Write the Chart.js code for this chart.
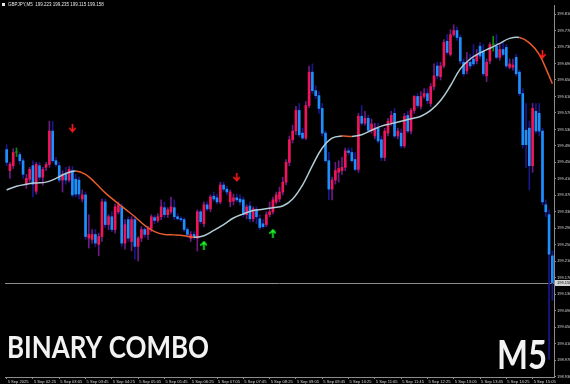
<!DOCTYPE html>
<html><head><meta charset="utf-8">
<script src="https://cdn.jsdelivr.net/npm/chart.js@4.4.1/dist/chart.umd.min.js"></script>
<style>html,body{margin:0;padding:0;background:#000;overflow:hidden}#wrap{position:relative;width:570px;height:384px}</style>
</head><body><div id="wrap"><canvas id="c" width="570" height="384"></canvas></div>
<script>
const symbolText = 'GBPJPY,M5';
const titleText = 'BINARY COMBO';
const timeframeText = 'M5';
const xTickLabels = ['5 Sep 2025','5 Sep 02:25','5 Sep 03:05','5 Sep 03:45','5 Sep 04:25','5 Sep 05:05','5 Sep 05:45','5 Sep 06:25','5 Sep 07:05','5 Sep 07:45','5 Sep 08:25','5 Sep 09:05','5 Sep 09:45','5 Sep 10:25','5 Sep 11:05','5 Sep 11:45','5 Sep 12:25','5 Sep 13:05','5 Sep 13:45','5 Sep 14:25','5 Sep 15:05'];
const yTicks = [199.810,199.770,199.730,199.690,199.650,199.610,199.570,199.530,199.490,199.450,199.410,199.370,199.330,199.290,199.250,199.210,199.170,199.130,199.090,199.050,199.010,198.970,198.930];

const openP = [
199.481,199.430,199.442,199.474,199.469,199.454,199.397,199.409,199.442,199.380,
199.442,199.414,199.438,199.445,199.526,199.454,199.442,199.407,199.421,199.407,
199.430,199.409,199.407,199.361,199.371,199.266,199.263,199.275,199.251,199.270,
199.354,199.299,199.318,199.287,199.330,199.342,199.254,199.311,199.258,199.311,
199.246,199.266,199.287,199.275,199.290,199.316,199.309,199.318,199.340,199.323,
199.330,199.340,199.318,199.313,199.311,199.287,199.266,199.275,199.266,199.330,
199.301,199.347,199.337,199.368,199.364,199.354,199.395,199.385,199.354,199.356,
199.364,199.361,199.359,199.323,199.344,199.313,199.335,199.313,199.301,199.299,
199.323,199.330,199.354,199.361,199.378,199.402,199.450,199.505,199.526,199.576,
199.521,199.509,199.588,199.669,199.624,199.612,199.581,199.521,199.454,199.385,
199.407,199.426,199.430,199.438,199.478,199.474,199.457,199.433,199.562,199.545,
199.557,199.528,199.514,199.533,199.505,199.462,199.521,199.545,199.569,199.514,
199.521,199.490,199.564,199.526,199.576,199.610,199.586,199.610,199.617,199.593,
199.634,199.684,199.658,199.684,199.744,199.712,199.760,199.770,199.753,199.693,
199.672,199.693,199.701,199.696,199.732,199.720,199.660,199.696,199.736,199.732,
199.705,199.724,199.729,199.681,199.681,199.705,199.669,199.617,199.528,199.533,
199.442,199.574,199.569,199.526,199.347,199.323,199.223];
const highP = [
199.493,199.450,199.483,199.485,199.474,199.459,199.421,199.438,199.454,199.450,
199.450,199.438,199.450,199.550,199.550,199.462,199.450,199.430,199.438,199.440,
199.440,199.421,199.414,199.383,199.378,199.323,199.287,199.287,199.278,199.361,
199.361,199.323,199.330,199.349,199.354,199.349,199.311,199.318,199.318,199.318,
199.270,199.294,199.292,199.294,199.323,199.321,199.325,199.359,199.354,199.340,
199.366,199.359,199.325,199.318,199.316,199.292,199.282,199.282,199.335,199.335,
199.354,199.354,199.371,199.378,199.373,199.402,199.402,199.392,199.383,199.373,
199.373,199.371,199.366,199.347,199.354,199.342,199.342,199.323,199.311,199.330,
199.354,199.366,199.378,199.390,199.414,199.457,199.514,199.540,199.586,199.593,
199.533,199.598,199.684,199.689,199.636,199.622,199.593,199.526,199.474,199.414,
199.450,199.454,199.462,199.485,199.485,199.485,199.474,199.569,199.588,199.574,
199.564,199.555,199.545,199.545,199.514,199.533,199.557,199.574,199.581,199.533,
199.531,199.569,199.574,199.581,199.612,199.617,199.622,199.629,199.629,199.641,
199.689,199.693,199.693,199.748,199.760,199.772,199.784,199.779,199.760,199.701,
199.717,199.712,199.736,199.724,199.741,199.736,199.701,199.741,199.756,199.760,
199.736,199.741,199.736,199.701,199.701,199.712,199.674,199.629,199.593,199.550,
199.593,199.593,199.593,199.533,199.359,199.335,199.235];
const lowP = [
199.442,199.411,199.435,199.464,199.445,199.411,199.387,199.402,199.366,199.373,
199.407,199.395,199.430,199.438,199.450,199.440,199.402,199.378,199.397,199.402,
199.366,199.366,199.361,199.354,199.263,199.242,199.254,199.246,199.223,199.258,
199.292,199.287,199.282,199.278,199.325,199.246,199.239,199.258,199.235,199.215,
199.211,199.258,199.268,199.263,199.282,199.301,199.304,199.311,199.316,199.316,
199.325,199.311,199.311,199.306,199.282,199.268,199.258,199.263,199.235,199.301,
199.294,199.333,199.330,199.356,199.349,199.349,199.380,199.371,199.342,199.347,
199.354,199.347,199.318,199.313,199.306,199.306,199.301,199.287,199.290,199.294,
199.318,199.325,199.349,199.354,199.371,199.395,199.442,199.497,199.517,199.512,
199.505,199.505,199.583,199.617,199.605,199.569,199.514,199.450,199.359,199.359,
199.397,199.402,199.421,199.430,199.469,199.450,199.430,199.426,199.540,199.540,
199.526,199.521,199.507,199.497,199.454,199.454,199.514,199.540,199.509,199.507,
199.485,199.485,199.521,199.519,199.569,199.583,199.579,199.605,199.593,199.586,
199.626,199.653,199.650,199.679,199.712,199.708,199.756,199.746,199.689,199.660,
199.665,199.677,199.684,199.689,199.701,199.660,199.646,199.689,199.720,199.701,
199.698,199.708,199.679,199.677,199.674,199.660,199.612,199.485,199.438,199.383,
199.426,199.521,199.514,199.347,199.318,198.972,199.115];
const closeP = [
199.450,199.445,199.474,199.474,199.454,199.421,199.411,199.433,199.397,199.445,
199.414,199.433,199.445,199.526,199.454,199.445,199.407,199.421,199.407,199.433,
199.371,199.373,199.373,199.371,199.270,199.275,199.275,199.254,199.270,199.354,
199.299,199.318,199.287,199.342,199.347,199.254,199.299,199.266,199.311,199.246,
199.266,199.287,199.275,199.290,199.318,199.309,199.318,199.342,199.323,199.335,
199.342,199.318,199.313,199.311,199.287,199.275,199.275,199.268,199.330,199.306,
199.347,199.337,199.366,199.361,199.354,199.395,199.385,199.378,199.378,199.364,
199.359,199.354,199.323,199.342,199.313,199.337,199.318,199.292,199.294,199.323,
199.330,199.359,199.371,199.378,199.402,199.450,199.505,199.526,199.576,199.517,
199.509,199.588,199.669,199.624,199.612,199.581,199.521,199.454,199.385,199.407,
199.430,199.435,199.438,199.478,199.474,199.454,199.433,199.562,199.545,199.557,
199.528,199.543,199.533,199.502,199.462,199.526,199.550,199.564,199.514,199.526,
199.490,199.562,199.526,199.576,199.610,199.588,199.610,199.617,199.600,199.634,
199.660,199.660,199.684,199.741,199.717,199.760,199.770,199.753,199.696,199.665,
199.693,199.684,199.689,199.712,199.708,199.665,199.693,199.736,199.736,199.705,
199.724,199.712,199.684,199.689,199.686,199.665,199.617,199.493,199.493,199.442,
199.581,199.526,199.526,199.354,199.330,199.227,199.158];

const maIndex = [0,3,6,9,12,15,18,21,24,27,30,33,36,39,42,45,48,51,54,57,60,63,66,69,72,75,78,81,84,87,90,93,96,99,102,105,108,111,114,117,120,123,126,129,132,135,138,141,144,147,150,153,156,159,162,165,166];
const maValues = [199.383,199.392,199.397,199.400,199.402,199.411,199.423,199.429,199.421,199.400,
199.376,199.356,199.337,199.318,199.297,199.282,199.275,199.274,199.272,199.268,
199.272,199.285,199.299,199.315,199.325,199.333,199.336,199.340,199.344,199.361,
199.395,199.442,199.485,199.509,199.514,199.513,199.517,199.528,199.538,199.544,
199.550,199.556,199.562,199.576,199.600,199.636,199.677,199.701,199.716,199.727,
199.739,199.751,199.753,199.740,199.712,199.660,199.641];

const arrowDownIndex = [20, 70, 163];
const arrowDownValue = [199.533, 199.414, 199.712];
const arrowUpIndex = [60, 81];
const arrowUpValue = [199.249, 199.278];

// bar times (M5 bars starting 01:45)
const categories = [];
for (let i = 0; i < openP.length; i++) {
  const m = 105 + 5 * i;
  categories.push(String(Math.floor(m / 60)).padStart(2, '0') + ':' + String(m % 60).padStart(2, '0'));
}
const n = openP.length;
const BULL = '#f0145a', BEAR = '#1e8fff', BULLW = '#6e1a84', BEARW = '#18188e', DOJI = '#0c8a0c';
const MA_UP = '#b2cbd6', MA_DN = '#e85c2c';

const wickData = categories.map((c, i) => [lowP[i], highP[i]]);
const bodyData = categories.map((c, i) => [openP[i], closeP[i]]);
const wickColors = categories.map((c, i) => closeP[i] > openP[i] ? BULLW : (closeP[i] < openP[i] ? BEARW : DOJI));
const bodyColors = categories.map((c, i) => closeP[i] > openP[i] ? BULL : (closeP[i] < openP[i] ? BEAR : DOJI));
const maData = new Array(n).fill(null);
maIndex.forEach((k, j) => { maData[k] = maValues[j]; });
const dnData = arrowDownIndex.map((k, j) => ({ x: categories[k], y: arrowDownValue[j] }));
const upData = arrowUpIndex.map((k, j) => ({ x: categories[k], y: arrowUpValue[j] }));

function maSegmentColor(c) {
  let a = c.p0DataIndex, b = c.p1DataIndex;
  while (a > 0 && maData[a] == null) a--;
  while (b < n - 1 && maData[b] == null) b++;
  if (maData[a] == null || maData[b] == null) return MA_UP;
  return maData[b] >= maData[a] ? MA_UP : MA_DN;
}

function makeArrow(color, up) {
  const c = document.createElement('canvas');
  c.width = 7; c.height = 9;
  const g = c.getContext('2d');
  g.strokeStyle = color; g.lineWidth = 1.6; g.lineCap = 'square';
  g.beginPath();
  if (up) {
    g.moveTo(3.5, 9); g.lineTo(3.5, 1.5);
    g.moveTo(0.8, 4.2); g.lineTo(3.5, 1.2); g.lineTo(6.2, 4.2);
  } else {
    g.moveTo(3.5, 0); g.lineTo(3.5, 7.5);
    g.moveTo(0.8, 4.8); g.lineTo(3.5, 7.8); g.lineTo(6.2, 4.8);
  }
  g.stroke();
  return c;
}
const redArrow = makeArrow('#ff1a1a', false);
const greenArrow = makeArrow('#19ff2a', true);

const AXIS = '#8c8c8c', TXT = '#d8d8d8';

const bgPlugin = {
  id: 'bg',
  beforeDraw(chart) {
    const ctx = chart.ctx;
    ctx.save(); ctx.fillStyle = '#000'; ctx.fillRect(0, 0, chart.width, chart.height); ctx.restore();
  }
};

function drawFit(ctx, text, font, x, baseline, targetW) {
  ctx.save();
  ctx.font = font;
  const w = ctx.measureText(text).width;
  ctx.translate(x, baseline);
  ctx.scale(targetW / w, 1);
  ctx.textAlign = 'left'; ctx.textBaseline = 'alphabetic';
  ctx.fillText(text, 0, 0);
  ctx.restore();
}

const overlay = {
  id: 'overlay',
  beforeDatasetsDraw(chart) {
    const ctx = chart.ctx, ca = chart.chartArea, ys = chart.scales.y;
    const py = Math.round(ys.getPixelForValue(closeP[n - 1])) + 0.5;
    ctx.save();
    ctx.strokeStyle = AXIS; ctx.lineWidth = 1;
    ctx.beginPath(); ctx.moveTo(ca.left, py); ctx.lineTo(ca.right, py); ctx.stroke();
    ctx.restore();
  },
  afterDraw(chart) {
    const ctx = chart.ctx, ca = chart.chartArea, ys = chart.scales.y;
    const last = closeP[n - 1];
    const py = Math.round(ys.getPixelForValue(last));
    ctx.save();
    ctx.fillStyle = '#d4d4d4';
    ctx.fillRect(ca.right + 1, py - 3, 16, 6);
    ctx.fillStyle = '#000'; ctx.font = '4px "Liberation Sans"';
    ctx.textBaseline = 'middle'; ctx.textAlign = 'left';
    ctx.fillText(last.toFixed(3), ca.right + 3, py);
    // header
    ctx.fillStyle = '#e8e8e8';
    ctx.fillRect(2, 3, 3, 3);
    ctx.font = '4.5px "Liberation Sans"';
    ctx.textBaseline = 'middle';
    ctx.fillText(symbolText + '  ' + [openP[n-1], highP[n-1], lowP[n-1], closeP[n-1]].map(v => v.toFixed(3)).join(' '), 8, 5);
    // big labels
    ctx.fillStyle = '#f2f2f2';
    drawFit(ctx, titleText, 'bold 31px Lato', 7, 358, 202);
    drawFit(ctx, timeframeText, 'bold 40px Lato', 497, 369, 50);
    ctx.restore();
  }
};

new Chart(document.getElementById('c'), {
  type: 'bar',
  data: {
    labels: categories,
    datasets: [
      { type: 'line', data: dnData, showLine: false, pointStyle: redArrow, pointRadius: 4, order: 0 },
      { type: 'line', data: upData, showLine: false, pointStyle: greenArrow, pointRadius: 4, order: 0 },
      { type: 'line', data: maData, spanGaps: true, pointRadius: 0, borderWidth: 1.5, tension: 0.4, order: 1,
        borderColor: MA_UP,
        segment: { borderColor: maSegmentColor } },
      { type: 'bar', data: bodyData, backgroundColor: bodyColors, barThickness: 2, grouped: false, minBarLength: 1, order: 2, borderWidth: 0 },
      { type: 'bar', data: wickData, backgroundColor: wickColors, barThickness: 1, grouped: false, order: 3, borderWidth: 0 }
    ]
  },
  options: {
    responsive: false, animation: false, events: [], devicePixelRatio: 1,
    layout: { padding: 0 },
    plugins: { legend: { display: false }, tooltip: { enabled: false } },
    scales: {
      x: {
        offset: true,
        afterFit: s => { s.height = 7; },
        ticks: { autoSkip: false, maxRotation: 0, minRotation: 0, align: 'start', padding: 0, labelOffset: 1, color: TXT,
          font: { family: 'Liberation Sans', size: 4.1 },
          callback: (v, i) => (i % 8 === 0 ? xTickLabels[i / 8] : '') },
        grid: { drawOnChartArea: false, offset: false, tickLength: 2, color: c => (c.index % 8 === 0 ? AXIS : 'rgba(0,0,0,0)') },
        border: { color: AXIS, width: 1 }
      },
      y: {
        position: 'right', min: 198.929, max: 199.832,
        afterBuildTicks: s => { s.ticks = yTicks.map(v => ({ value: v })); },
        afterFit: s => { s.width = 16; },
        ticks: { color: TXT, padding: 1, font: { family: 'Liberation Sans', size: 4 }, callback: v => Number(v).toFixed(3) },
        grid: { drawOnChartArea: false, tickLength: 2, color: AXIS },
        border: { color: AXIS, width: 1 }
      }
    }
  },
  plugins: [bgPlugin, overlay]
});
</script>
</body></html>
